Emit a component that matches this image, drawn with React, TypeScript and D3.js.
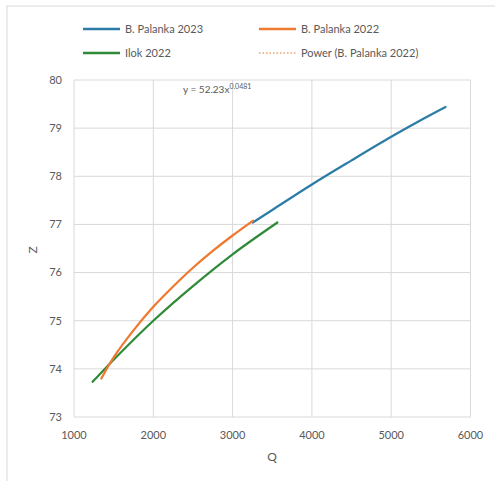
import * as d3 from 'd3'

// Values
const palanka2023Q = [3255, 3500, 4000, 4500, 5000, 5400, 5685]
const palanka2023Z = [77.04, 77.30, 77.83, 78.33, 78.82, 79.19, 79.44]

const palanka2022Q = [1345, 1500, 1750, 2000, 2250, 2500, 2750, 3000, 3260]
const palanka2022Z = [73.80, 74.24, 74.80, 75.29, 75.71, 76.10, 76.45, 76.77, 77.08]

const ilok2022Q = [1235, 1500, 2000, 2500, 3000, 3565]
const ilok2022Z = [73.73, 74.19, 75.00, 75.72, 76.38, 77.04]

// power trendline points (B. Palanka 2022)
const trendQ = [1345, 1500, 2000, 2500, 3000, 3260]
const trendZ = [73.82, 74.25, 75.28, 76.10, 76.77, 77.09]

const xTicks = [1000, 2000, 3000, 4000, 5000, 6000]
const yTicks = [73, 74, 75, 76, 77, 78, 79, 80]

const W = 495
const H = 481
const PLOT = { left: 74, right: 470.5, top: 80, bottom: 417 }
const FONT = 'Lato, "Open Sans", sans-serif'
const TXT = '#595959'
const GRID = '#d9d9d9'

const C_BLUE = '#2b7ca6'
const C_ORANGE = '#ef7a30'
const C_GREEN = '#2f8a38'

type Pt = [number, number]
const zip = (q: number[], z: number[]): Pt[] => q.map((v, i) => [v, z[i]])

export default function App() {
  const x = d3.scaleLinear().domain([1000, 6000]).range([PLOT.left, PLOT.right])
  const y = d3.scaleLinear().domain([73, 80]).range([PLOT.bottom, PLOT.top])
  const line = d3.line<Pt>().x(d => x(d[0])).y(d => y(d[1])).curve(d3.curveCatmullRom.alpha(0.5))

  const series = [
    { name: 'Ilok 2022', color: C_GREEN, pts: zip(ilok2022Q, ilok2022Z) },
    { name: 'B. Palanka 2023', color: C_BLUE, pts: zip(palanka2023Q, palanka2023Z) },
    { name: 'B. Palanka 2022', color: C_ORANGE, pts: zip(palanka2022Q, palanka2022Z) },
  ]

  const legend = [
    { label: 'B. Palanka 2023', color: C_BLUE, dash: false, lx: 83, ly: 29 },
    { label: 'B. Palanka 2022', color: C_ORANGE, dash: false, lx: 259, ly: 29 },
    { label: 'Ilok 2022', color: C_GREEN, dash: false, lx: 83, ly: 53 },
    { label: 'Power (B. Palanka 2022)', color: C_ORANGE, dash: true, lx: 259, ly: 53 },
  ]

  return (
    <div style={{ position: 'absolute', left: 0, top: 0 }}>
      <svg width={W} height={H} style={{ display: 'block', fontFamily: FONT }}>
        <rect x={0} y={0} width={W} height={H} fill="#fff" />
        <rect x={7} y={6} width={W} height={H} fill="#fff" stroke="#d9d9d9" strokeWidth={1} />

        {/* Legend */}
        {legend.map(l => (
          <g key={l.label}>
            <line x1={l.lx} x2={l.lx + 37} y1={l.ly} y2={l.ly}
              stroke={l.color} strokeWidth={l.dash ? 1.5 : 2.5}
              strokeDasharray={l.dash ? '1.5,2' : undefined} opacity={l.dash ? 0.7 : 1} />
            <text x={l.lx + 42} y={l.ly} dy="0.35em" fontSize={11} fill={TXT}>{l.label}</text>
          </g>
        ))}

        {/* Grid */}
        {xTicks.map(t => (
          <line key={'gx' + t} x1={x(t)} x2={x(t)} y1={PLOT.top} y2={PLOT.bottom} stroke={GRID} strokeWidth={1} />
        ))}
        {yTicks.map(t => (
          <line key={'gy' + t} x1={PLOT.left} x2={PLOT.right} y1={y(t)} y2={y(t)} stroke={GRID} strokeWidth={1} />
        ))}

        {/* Tick labels */}
        {yTicks.map(t => (
          <text key={'ty' + t} x={62} y={y(t)} dy="0.35em" textAnchor="end" fontSize={11} fill={TXT}>{t}</text>
        ))}
        {xTicks.map(t => (
          <text key={'tx' + t} x={x(t)} y={435} dy="0.35em" textAnchor="middle" fontSize={11} fill={TXT}>{t}</text>
        ))}

        {/* Axis titles */}
        <text x={272} y={457} dy="0.35em" textAnchor="middle" fontSize={12} fill={TXT}>Q</text>
        <text transform="translate(33,250) rotate(-90)" dy="0.35em" textAnchor="middle" fontSize={12} fill={TXT}>Z</text>

        {/* Series */}
        {series.map(s => (
          <path key={s.name} d={line(s.pts) || ''} fill="none" stroke={s.color} strokeWidth={2.2} strokeLinecap="round" />
        ))}
        <path d={line(zip(trendQ, trendZ)) || ''} fill="none" stroke={C_ORANGE} strokeWidth={1.2}
          strokeDasharray="1.5,2" opacity={0.8} />

        {/* Trendline equation */}
        <text x={183} y={89} dy="0.35em" fontSize={10} fill={TXT}>
          y = 52.23x<tspan dy="-4" fontSize={7}>0.0481</tspan>
        </text>
      </svg>
    </div>
  )
}
